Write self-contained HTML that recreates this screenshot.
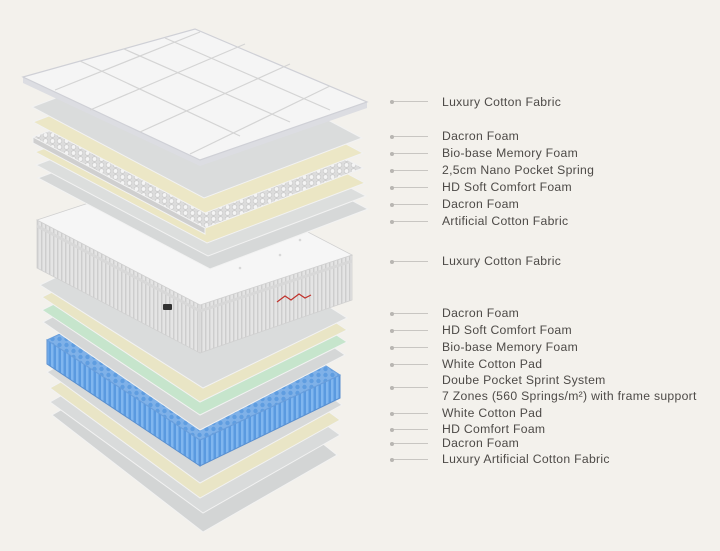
<!DOCTYPE html>
<html><head><meta charset="utf-8"><style>
html,body{margin:0;padding:0;background:#f3f1ec;}
#w{position:relative;width:720px;height:551px;overflow:hidden;background:#f3f1ec;font-family:"Liberation Sans",sans-serif;}
.l{position:absolute;left:442px;font-size:12.2px;color:#4d4a47;letter-spacing:0.3px;line-height:14px;white-space:nowrap}
.ln{position:absolute;left:390px;width:38px;height:1px;background:#c8c6c2}
.ln:before{content:"";position:absolute;left:0;top:-1.5px;width:4px;height:4px;border-radius:2px;background:#b8b6b2}
</style></head><body><div id="w">
<svg width="720" height="551" style="position:absolute;left:0;top:0">
<defs>
<pattern id="dots" width="7" height="6" patternUnits="userSpaceOnUse"><rect width="7" height="6" fill="#dcdcdc"/><circle cx="3.5" cy="3" r="2.3" fill="#f4f4f4" stroke="#c4c4c4" stroke-width="0.6"/></pattern>
<pattern id="blue" width="5" height="10" patternUnits="userSpaceOnUse"><rect width="5" height="10" fill="#5a9ae0"/><rect x="1" width="2.5" height="10" fill="#80b6ef"/></pattern>
<pattern id="bdots" width="7" height="6" patternUnits="userSpaceOnUse"><rect width="7" height="6" fill="#7fb1e8"/><circle cx="3.5" cy="3" r="2.2" fill="#5f9de0"/></pattern>
<pattern id="knit" width="4" height="6" patternUnits="userSpaceOnUse"><rect width="4" height="6" fill="#e4e4e4"/><rect x="1" width="1.4" height="6" fill="#cdcdcd"/></pattern>
</defs>
<g stroke="#f2f2f2" stroke-width="1">
<!-- lower stack: L, T, R, B -->
<polygon points="52,415 189,337 337,455 203,532" fill="#d3d5d5"/>
<polygon points="50,402 187,324 340,435 203,513" fill="#d9dbdb"/>
<polygon points="50,388 190,310 340,420 200,498" fill="#e9e5c6"/>
<polygon points="47,372 189,294 342,405 200,483" fill="#d7d9d9"/>
<!-- blue block -->
<polygon points="47,340 200,440 200,466 47,364" fill="url(#blue)" stroke="#5a8fcf"/>
<polygon points="200,440 340,375 340,398 200,466" fill="url(#blue)" stroke="#5a8fcf"/>
<polygon points="47,340 187,275 340,375 200,440" fill="url(#bdots)" stroke="#6a9fdc"/>
<polygon points="43,322 188,247 345,355 200,430" fill="#d5d7d7"/>
<polygon points="42,310 189,237 347,342 200,415" fill="#c6e5cc"/>
<polygon points="42,297 189,225 347,330 200,402" fill="#e9e5c5"/>
<polygon points="40,285 184,215 347,318 203,388" fill="#dadcdc"/>
</g>
<!-- mattress -->
<g stroke="#d0d0d0" stroke-width="0.8">
<polygon points="37,220 200,305 200,353 37,268" fill="url(#knit)"/>
<polygon points="200,305 352,255 352,300 200,353" fill="url(#knit)"/>
<polygon points="37,220 189,170 352,255 200,305" fill="#f6f6f6"/>
</g>
<path d="M37,226 L200,311 L352,261" stroke="#d8d8d8" stroke-width="3" fill="none"/>
<path d="M277,302 l8,-6 l6,4 l8,-6 l6,4 l6,-3" stroke="#c0322c" stroke-width="1.2" fill="none"/>
<rect x="163" y="304" width="9" height="6" rx="1" fill="#333"/>
<g fill="#d8d8d8"><circle cx="120" cy="215" r="1.3"/><circle cx="160" cy="230" r="1.3"/><circle cx="200" cy="250" r="1.3"/><circle cx="240" cy="268" r="1.3"/><circle cx="280" cy="255" r="1.3"/><circle cx="300" cy="240" r="1.3"/><circle cx="230" cy="220" r="1.3"/><circle cx="180" cy="200" r="1.3"/></g>
<g stroke="#f2f2f2" stroke-width="1">
<!-- upper layers: L, T=L+(158,-60), R=L+(330,31), B=L+(172,91) -->
<polygon points="38,178 196,118 368,209 210,269" fill="#d6d8d8"/>
<polygon points="36,165 194,105 366,196 208,256" fill="#dcdedd"/>
<polygon points="35,152 193,92 365,183 207,243" fill="#ebe6c4"/>
<polygon points="33,137 191,77 363,168 205,228 205,234 33,143" fill="#cfcfcf"/>
<polygon points="33,137 191,77 363,168 205,228" fill="url(#dots)"/>
<polygon points="33,122 191,62 363,153 205,213" fill="#ece7c6"/>
<polygon points="32,107 190,47 362,138 204,198" fill="#dadcdc"/>
</g>
<!-- pillow top -->
<polygon points="23,77 200,160 200,166 23,83" fill="#dcdde2"/>
<polygon points="200,160 367,102 367,108 200,166" fill="#dcdde2"/>
<polygon points="23,77 195,29 367,102 200,160" fill="#f5f5f5" stroke="#cfd0d6" stroke-width="1.2"/>
<g stroke="#d4d4d4" stroke-width="1.2" fill="none">
<path d="M70,64 L110,82 L150,100 M115,51 L290,130 M155,40 L325,115 M195,29 L367,102" opacity="0"/>
<path d="M80,61 L240,136 M124,49 L290,122 M165,38 L330,110"/>
<path d="M90,110 L245,44 M140,132 L290,64 M190,154 L330,86 M55,90 L200,32"/>
</g>
</svg>
<div class="ln" style="top:101px"></div><div class="l" style="top:95px">Luxury Cotton Fabric</div>
<div class="ln" style="top:136px"></div><div class="l" style="top:129px">Dacron Foam</div>
<div class="ln" style="top:153px"></div><div class="l" style="top:146px">Bio-base Memory Foam</div>
<div class="ln" style="top:170px"></div><div class="l" style="top:163px">2,5cm Nano Pocket Spring</div>
<div class="ln" style="top:187px"></div><div class="l" style="top:180px">HD Soft Comfort Foam</div>
<div class="ln" style="top:204px"></div><div class="l" style="top:197px">Dacron Foam</div>
<div class="ln" style="top:221px"></div><div class="l" style="top:214px">Artificial Cotton Fabric</div>
<div class="ln" style="top:261px"></div><div class="l" style="top:254px">Luxury Cotton Fabric</div>
<div class="ln" style="top:313px"></div><div class="l" style="top:306px">Dacron Foam</div>
<div class="ln" style="top:330px"></div><div class="l" style="top:323px">HD Soft Comfort Foam</div>
<div class="ln" style="top:347px"></div><div class="l" style="top:340px">Bio-base Memory Foam</div>
<div class="ln" style="top:364px"></div><div class="l" style="top:357px">White Cotton Pad</div>
<div class="ln" style="top:387px"></div><div class="l" style="top:373px">Doube Pocket Sprint System</div>
<div class="l" style="top:389px">7 Zones (560 Springs/m²) with frame support</div>
<div class="ln" style="top:413px"></div><div class="l" style="top:406px">White Cotton Pad</div>
<div class="ln" style="top:429px"></div><div class="l" style="top:422px">HD Comfort Foam</div>
<div class="ln" style="top:443px"></div><div class="l" style="top:436px">Dacron Foam</div>
<div class="ln" style="top:459px"></div><div class="l" style="top:452px">Luxury Artificial Cotton Fabric</div>
</div></body></html>
